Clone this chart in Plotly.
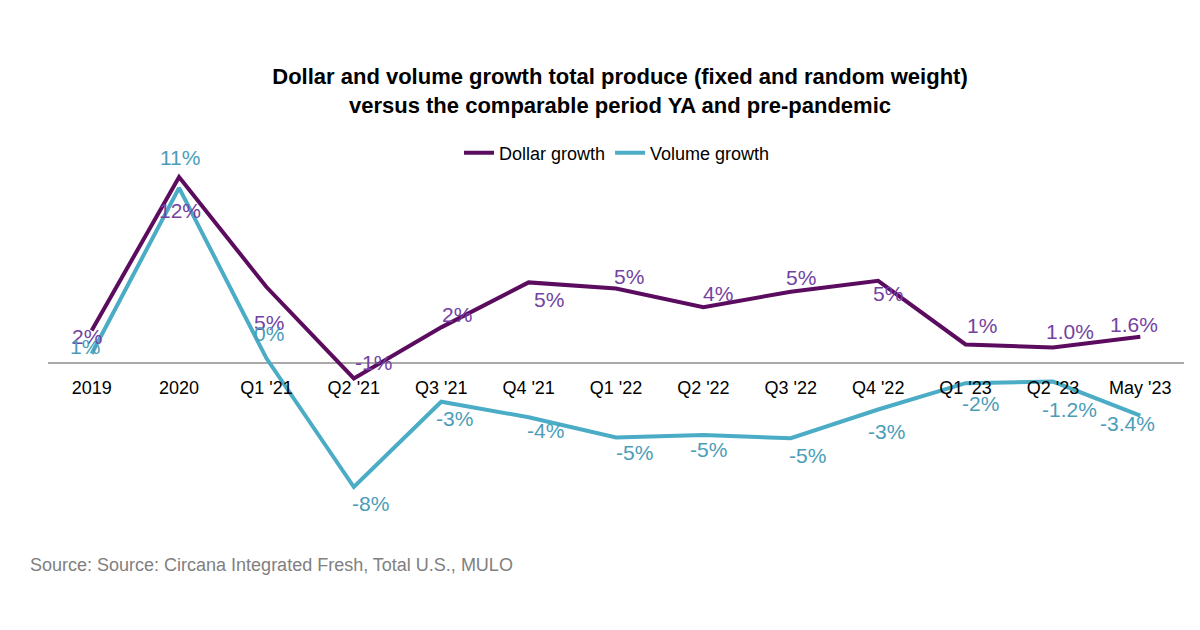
import plotly.graph_objects as go

categories = ["2019", "2020", "Q1 '21", "Q2 '21", "Q3 '21", "Q4 '21", "Q1 '22",
              "Q2 '22", "Q3 '22", "Q4 '22", "Q1 '23", "Q2 '23", "May '23"]
dollar_growth = [2.1, 12.0, 4.9, -1.0, 2.3, 5.2, 4.8, 3.6, 4.6, 5.3, 1.2, 1.0, 1.7]
volume_growth = [0.6, 11.3, 0.3, -8.0, -2.5, -3.5, -4.8, -4.65, -4.85, -3.0, -1.3, -1.2, -3.4]
dollar_labels = ["2%", "12%", "5%", "-1%", "2%", "5%", "5%", "4%", "5%", "5%", "1%", "1.0%", "1.6%"]
volume_labels = ["1%", "11%", "0%", "-8%", "-3%", "-4%", "-5%", "-5%", "-5%", "-3%", "-2%", "-1.2%", "-3.4%"]

# label offsets in pixels (style): (xshift, yshift) with yshift positive = up
dollar_offsets = [(-5, -6), (1, -33), (3, -35), (20, 16), (16, 13), (20, -17), (13, 12),
                  (15, 14), (10, 14), (10, -13), (16, 19), (17, 16), (-6, 12)]
volume_offsets = [(-7, 7), (1, 30), (3, 25), (17, -16), (13, -17), (17, -13), (18, -15),
                  (5, -14), (17, -17), (8, -22), (15, -20), (17, -28), (-13, -8)]

DOLLAR_LINE = "#5B0C5F"
DOLLAR_TEXT = "#7442A2"
VOLUME_LINE = "#4BACC6"
VOLUME_TEXT = "#4A9DB8"
FONT = "Liberation Sans, Arial, sans-serif"

y_min, y_max = -10, 14
W, H = 1200, 630
margin_l, margin_r, margin_t, margin_b = 40, 24, 138, 120
plot_w = W - margin_l - margin_r
plot_h = H - margin_t - margin_b

fig = go.Figure()
fig.add_trace(go.Scatter(x=categories, y=dollar_growth, mode="lines", name="Dollar growth",
                         line=dict(color=DOLLAR_LINE, width=4)))
fig.add_trace(go.Scatter(x=categories, y=volume_growth, mode="lines", name="Volume growth",
                         line=dict(color=VOLUME_LINE, width=4)))

annotations = []
for i, (val, lab, (dx, dy)) in enumerate(zip(dollar_growth, dollar_labels, dollar_offsets)):
    annotations.append(dict(x=i, y=val, xref="x", yref="y", text=lab, showarrow=False,
                            xshift=dx, yshift=dy,
                            font=dict(family=FONT, size=21, color=DOLLAR_TEXT)))
for i, (val, lab, (dx, dy)) in enumerate(zip(volume_growth, volume_labels, volume_offsets)):
    annotations.append(dict(x=i, y=val, xref="x", yref="y", text=lab, showarrow=False,
                            xshift=dx, yshift=dy,
                            font=dict(family=FONT, size=21, color=VOLUME_TEXT)))
annotations.append(dict(x=(20 - margin_l) / plot_w, y=(H - margin_b - 557) / plot_h,
                        xref="paper", yref="paper", showarrow=False,
                        text="Source: Source: Circana Integrated Fresh, Total U.S., MULO",
                        font=dict(family=FONT, size=18, color="#808080"),
                        xanchor="left", yanchor="middle"))

zero_frac = (0 - y_min) / (y_max - y_min)

fig.update_layout(
    width=W, height=H,
    paper_bgcolor="white", plot_bgcolor="white",
    margin=dict(l=margin_l, r=margin_r, t=margin_t, b=margin_b, autoexpand=False),
    title=dict(text="<b>Dollar and volume growth total produce (fixed and random weight)<br>versus the comparable period YA and pre-pandemic</b>",
               x=612 / W, xanchor="center", xref="container",
               y=1 - 76 / H, yanchor="middle", yref="container",
               font=dict(family=FONT, size=22, color="#000000")),
    legend=dict(orientation="h", x=609 / W, xanchor="center", xref="container",
                y=1 - 145 / H, yanchor="middle", yref="container",
                font=dict(family=FONT, size=18, color="#000000"), bgcolor="rgba(0,0,0,0)"),
    xaxis=dict(type="category", range=[-0.5, len(categories) - 0.5], anchor="free", position=zero_frac,
               showline=False, showgrid=False, ticks="",
               tickfont=dict(family=FONT, size=18, color="#000000"), ticklabelstandoff=12),
    yaxis=dict(range=[y_min, y_max], visible=False, showgrid=False, zeroline=False),
    annotations=annotations,
    showlegend=True,
)
fig.add_shape(type="line", xref="paper", yref="y", x0=0, x1=1, y0=0, y1=0,
              line=dict(color="#8c8c8c", width=1.5), layer="below")

fig.write_html("out.html")
